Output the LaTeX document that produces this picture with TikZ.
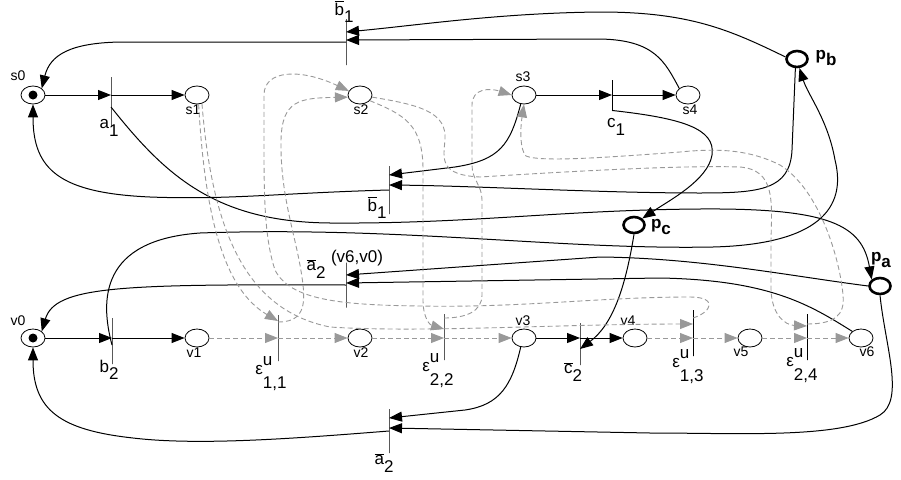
\documentclass[tikz,border=0pt]{standalone}
\usepackage{fontspec}
\setmainfont{Liberation Sans}
\usetikzlibrary{arrows.meta,shapes.geometric}

\newcommand\tsub[3][0.45em]{#2\raisebox{-#1}{#3}}
\newcommand\bart[1]{$\overline{\hbox{#1}}$}
\newcommand\epsu[1]{ε\rlap{\raisebox{0.5em}{u}}\raisebox{-0.85em}{#1}}

\tikzset{
  place/.style={draw, ellipse, line width=0.8pt, minimum width=24pt, minimum height=18pt, inner sep=0pt},
  bigplace/.style={place, line width=2.6pt, minimum width=21pt, minimum height=16pt},
  tbar/.style={draw, line width=0.9pt, inner sep=0pt, minimum width=0pt, minimum height=#1},
  tbar/.default=46pt,
  flow/.style={line width=1pt, -{Triangle[length=13pt,width=10pt]}},
  uflow/.style={line width=0.9pt, black!40, dash pattern=on 5pt off 3pt, -{Triangle[length=13pt,width=10pt]}},
  plab/.style={inner sep=0pt, font=\fontsize{14}{15}\selectfont},
  tlab/.style={inner sep=0pt, font=\fontsize{17}{18}\selectfont},
  blab/.style={inner sep=0pt, font=\fontsize{17}{18}\selectfont\bfseries},
}

\begin{document}
\begin{tikzpicture}[x=1pt,y=-1pt]
\useasboundingbox (0,0) rectangle (901,479);

% places of both nets
\foreach \n/\x/\y in {s0/33/95, s1/197/95, s2/360/95, s3/524/95, s4/688/95,
  v0/33/338, v1/197/338, v2/360/338, v3/524/338, v4/635/338, v5/750/338, v6/861/338}
  \node[place] (\n) at (\x,\y) {};
\foreach \n/\x/\y in {s0/18/76, s1/193/110, s2/361/110, s3/523/77, s4/690/110,
  v0/18/321, v1/194/353, v2/361/353, v3/523/321, v4/628/321, v5/741/352, v6/867/352}
  \node[plab] (\n-l) at (\x,\y) {\n};
\fill (s0) circle (4.5pt);
\fill (v0) circle (4.5pt);

% shared places
\node[bigplace] (pb) at (797,59) {};
\node[bigplace] (pc) at (634,225) {};
\node[bigplace] (pa) at (880,286) {};
\node[blab] (pb-l) at (826,58) {\tsub[0.3em]{p}{b}};
\node[blab] (pc-l) at (661,227) {\tsub[0.3em]{p}{c}};
\node[blab] (pa-l) at (881,260) {\tsub[0.3em]{p}{a}};

% transitions (name/x/y/bar length)
\foreach \n/\x/\y/\h in {a1/111/102/50pt, bT/346/42/46pt, bM/389/190/48pt, c1/612/95/30pt,
  aM/346/285/45pt, b2/112/341/46pt, e11/278/338/46pt, e22/444/337/46pt, c2/580/344/42pt,
  e13/693/333/46pt, e24/807/337/46pt, aB/389/431/44pt}
  \node[tbar=\h] (\n) at (\x,\y) {};
\node[tlab] (a1-l) at (109,128) {\tsub{a}{1}};
\node[tlab] (bT-l) at (344,12) {\tsub{\bart{b}}{1}};
\node[tlab] (bM-l) at (377,208) {\tsub{\bart{b}}{1}};
\node[tlab] (c1-l) at (616,127) {\tsub{c}{1}};
\node[tlab] (aM-l) at (316,269) {\tsub{\bart{a}}{2}};
\node[tlab] (aM-x) at (357,258) {(v6,v0)};
\node[tlab] (b2-l) at (109,370) {\tsub{b}{2}};
\node[tlab] (aB-l) at (384,463) {\tsub{\bart{a}}{2}};
\node[tlab] (c2-l) at (573,372) {\tsub{\bart{c}}{2}};
\node[tlab] (e11-l) at (271,374) {\epsu{1,1}};
\node[tlab] (e22-l) at (438,371) {\epsu{2,2}};
\node[tlab] (e13-l) at (688,367) {\epsu{1,3}};
\node[tlab] (e24-l) at (802,366) {\epsu{2,4}};

% straight arcs along the rows
\draw[flow] (s0) -- (a1 |- s0);
\draw[flow] (a1 |- s1) -- (s1);
\draw[flow] (s3) -- (c1 |- s3);
\draw[flow] (c1 |- s4) -- (s4);
\draw[flow] (v0) -- (b2 |- v0);
\draw[flow] (b2 |- v1) -- (v1);
\draw[flow] (v3) -- (c2 |- v3);
\draw[flow] (c2 |- v4) -- (v4);
\draw[uflow] (v1) -- (e11 |- v1);
\draw[uflow] (e11 |- v2) -- (v2);
\draw[uflow] (v2) -- (e22 |- v2);
\draw[uflow] (e22 |- v3) -- (v3);
\draw[uflow] (v4) -- (e13 |- v4);
\draw[uflow] (e13 |- v5) -- (v5);
\draw[uflow] (v5) -- (e24 |- v5);
\draw[uflow] (e24 |- v6) -- (v6);

% upper net, back arcs
\draw[flow] (pb.170) .. controls (730,30) and (690,12) .. (600,12)
  .. controls (500,13) and (420,25) .. ([yshift=10pt]bT.center);
\draw[flow] (s4.north west) .. controls (665,62) and (655,40) .. (600,39) -- ([yshift=2pt]bT.center);
\draw[flow] (bT.center) -- (120,42) .. controls (70,43) and (50,55) .. (s0.north east);
\draw[flow] (s3.-110) .. controls (510,145) and (500,160) .. (455,167) -- ([yshift=15pt]bM.center);
\draw[flow] (pb.-100) -- (792,150) .. controls (790,190) and (760,193) .. (700,193)
  .. controls (600,193) and (480,186) .. ([yshift=5pt]bM.center);
\draw[flow] (bM.center) .. controls (280,193) and (230,200) .. (150,197)
  .. controls (60,193) and (33,170) .. (s0.south);

% arcs to and from the shared places
\draw[flow] ([yshift=-5pt]a1.center) .. controls (165,175) and (215,222) .. (330,223)
  .. controls (470,224) and (560,210) .. (700,209) .. controls (830,208) and (862,225) .. (pa.north west);
\draw[flow] (c1.south) .. controls (680,118) and (716,128) .. (712,155)
  .. controls (708,180) and (670,200) .. (pc.north east);
\draw[flow] (pc.south) .. controls (625,290) and (612,325) .. ([yshift=-5pt]c2.center);
\draw[flow] ([yshift=-4pt]b2.center) .. controls (100,300) and (100,240) .. (200,233)
  .. controls (400,226) and (560,250) .. (713,247) .. controls (830,244) and (845,200) .. (835,160)
  .. controls (828,120) and (808,95) .. (pb.-75);

% lower net, back arcs
\draw[flow] (pa.west) .. controls (790,276) and (700,258) .. (600,257) -- ([yshift=10pt]aM.center);
\draw[flow] (v6.north west) .. controls (810,305) and (770,280) .. (660,278) -- ([yshift=2pt]aM.center);
\draw[flow] (aM.center) .. controls (120,284) and (55,286) .. (v0.north east);
\draw[flow] (v3.-110) .. controls (512,385) and (500,405) .. (465,410) -- ([yshift=13pt]aB.center);
\draw[flow] (pa.south) .. controls (885,345) and (905,400) .. (880,415)
  .. controls (840,439) and (740,433) .. (650,433) -- ([yshift=3pt]aB.center);
\draw[flow] (aB.center) .. controls (300,438) and (200,446) .. (133,438)
  .. controls (60,430) and (33,410) .. (v0.south);

% unobservable synchronisations (dashed)
\draw[uflow] (s1.-80) .. controls (205,220) and (225,290) .. ([yshift=17pt]e11.center);
\draw[uflow] (s1.-60) .. controls (212,230) and (245,310) .. (330,327)
  .. controls (420,333) and (560,324) .. ([yshift=9pt]e13.center);
\draw[uflow] ([yshift=16pt]e11.center) .. controls (300,322) and (306,310) .. (303,285)
  .. controls (298,240) and (280,200) .. (281,140) .. controls (282,100) and (300,98) .. (s2.190);
\draw[uflow] ([yshift=15pt]e13.center) .. controls (712,312) and (718,297) .. (690,297)
  .. controls (600,297) and (520,308) .. (420,306) .. controls (340,305) and (290,300) .. (275,270)
  .. controls (265,240) and (264,200) .. (264,150) -- (264,95) .. controls (264,70) and (300,68) .. (s2.160);
\draw[uflow] (s2.-30) .. controls (405,115) and (423,125) .. (423,170) -- (423,300)
  .. controls (423,318) and (430,325) .. ([yshift=8pt]e22.center);
\draw[uflow] ([yshift=19pt]e22.center) .. controls (465,318) and (482,312) .. (482,295) -- (482,200)
  .. controls (482,185) and (472,180) .. (472,165) -- (472,105) .. controls (472,88) and (490,88) .. (s3.west);
\draw[uflow] (s2.-10) .. controls (420,105) and (447,112) .. (445,140)
  .. controls (443,160) and (440,175) .. (480,177) .. controls (560,172) and (680,165) .. (740,167)
  .. controls (775,170) and (772,200) .. (771,240) -- (771,290)
  .. controls (772,315) and (785,325) .. ([yshift=11pt]e24.center);
\draw[uflow] ([yshift=13pt]e24.center) .. controls (835,324) and (845,315) .. (843,295)
  .. controls (840,260) and (820,190) .. (780,165) .. controls (750,150) and (720,148) .. (680,152)
  .. controls (600,158) and (540,162) .. (526,156) .. controls (520,150) and (520,130) .. (s3.south);
\end{tikzpicture}
\end{document}
